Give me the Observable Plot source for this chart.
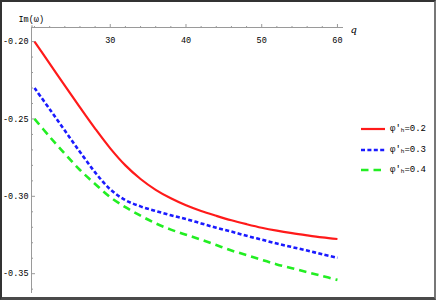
<!DOCTYPE html>
<html><head><meta charset="utf-8">
<script src="https://cdn.jsdelivr.net/npm/d3@7"></script>
<script src="https://cdn.jsdelivr.net/npm/@observablehq/plot@0.6"></script>
<style>
html,body{margin:0;padding:0;background:#fff;}
#wrap{position:relative;width:436px;height:300px;overflow:hidden;}
#frame{position:absolute;left:0;top:0;width:436px;height:300px;box-sizing:border-box;
 border-left:2px solid #333;border-top:2px solid #333;border-right:2px solid #777;border-bottom:3px solid #4a4a4a;pointer-events:none;}
#legend{position:absolute;left:361px;top:119px;font-family:"Liberation Mono",monospace;font-size:9px;color:#000;}
#legend .row{display:flex;align-items:center;height:20.5px;}
#legend svg{margin-right:5px;}
</style></head>
<body><div id="wrap"><div id="frame"></div><div id="legend"></div></div>
<script>
const q = [20,22,24,26,28,30,32,34,36,38,40,42,44,46,48,50,52,54,56,58,60];
const im02 = [-0.200,-0.2142,-0.2285,-0.2425,-0.2562,-0.2690,-0.2800,-0.2888,-0.2958,-0.3013,-0.3058,-0.3095,-0.3126,-0.3155,-0.318,-0.3203,-0.3222,-0.3238,-0.3252,-0.3265,-0.3276];
const im03 = [-0.230,-0.2437,-0.2575,-0.2713,-0.2845,-0.2955,-0.3025,-0.3065,-0.3095,-0.3122,-0.3147,-0.3175,-0.3203,-0.3228,-0.3255,-0.328,-0.3305,-0.3328,-0.335,-0.3375,-0.3397];
const im04 = [-0.250,-0.2615,-0.2725,-0.283,-0.292,-0.3005,-0.307,-0.3125,-0.3175,-0.3215,-0.3248,-0.328,-0.3315,-0.335,-0.338,-0.341,-0.344,-0.3465,-0.349,-0.3515,-0.354];
const seriesNames = ["0.2","0.3","0.4"];
const seriesColors = ["#ff1a1a","#1a1aff","#22ee22"];
const seriesDash = [null,"4,2.4","7.5,5"];
const seriesWidth = [2.2,2.6,2.6];
const xMajor = [30,40,50,60];
const xMinor = [20,22,24,26,28,32,34,36,38,42,44,46,48,52,54,56,58];
const yMajor = [-0.20,-0.25,-0.30,-0.35];
const yMinor = [-0.19,-0.21,-0.22,-0.23,-0.24,-0.26,-0.27,-0.28,-0.29,-0.31,-0.32,-0.33,-0.34,-0.36];
const yLabels = ["-0.20","-0.25","-0.30","-0.35"];
const xDomain = [19.6, 60.8];
const yDomain = [-0.3628, -0.1909];

const allSeries = [im02, im03, im04];
const data = allSeries.flatMap((vals, s) => q.map((x, i) => ({q: x, v: vals[i], s})));

const font = "Liberation Mono, monospace";
const axisColor = "#9a9a9a";

const marks = [
  Plot.ruleY([yDomain[1]], {stroke: axisColor, strokeWidth: 1}),
  Plot.ruleX([xDomain[0]], {stroke: axisColor, strokeWidth: 1}),
  Plot.axisX({anchor: "top", ticks: xMajor, tickSize: 4, tickFormat: () => "", label: null, stroke: axisColor}),
  Plot.axisX({anchor: "top", ticks: xMinor, tickSize: 2, tickFormat: () => "", label: null, stroke: axisColor}),
  Plot.axisY({anchor: "left", ticks: yMajor, tickSize: -4, tickFormat: () => "", label: null, stroke: axisColor}),
  Plot.axisY({anchor: "left", ticks: yMinor, tickSize: -2, tickFormat: () => "", label: null, stroke: axisColor}),
  Plot.text(xMajor, {x: d => d, frameAnchor: "top", dy: 9, text: d => String(d), fontSize: 8.5, fontFamily: font, fill: "#000"}),
  Plot.text(yMajor, {y: d => d, frameAnchor: "left", dx: -3, textAnchor: "end", text: (d, i) => yLabels[i], fontSize: 8.5, fontFamily: font, fill: "#000"}),
  Plot.text(["q"], {frameAnchor: "top-right", dx: 7, dy: -2, text: d => d, textAnchor: "start", fontSize: 10, fontFamily: "DejaVu Serif, serif", fontStyle: "italic", fill: "#000"}),
  Plot.text(["Im(ω)"], {frameAnchor: "top-left", dx: -13, dy: -12, text: d => d, textAnchor: "start", fontSize: 8.5, fontFamily: font, fill: "#000"})
];
allSeries.forEach((vals, s) => {
  marks.push(Plot.line(data.filter(d => d.s === s), {x: "q", y: "v", stroke: seriesColors[s], strokeWidth: seriesWidth[s], strokeDasharray: seriesDash[s], strokeLinecap: "butt", curve: "catmull-rom"}));
});

const chart = Plot.plot({
  width: 436, height: 300,
  marginLeft: 31, marginRight: 93, marginTop: 27, marginBottom: 7,
  x: {domain: xDomain, axis: null},
  y: {domain: yDomain, axis: null},
  style: {background: "transparent", overflow: "visible"},
  marks
});
document.getElementById("wrap").insertBefore(chart, document.getElementById("frame"));

const legend = document.getElementById("legend");
seriesNames.forEach((n, s) => {
  const row = document.createElement("div");
  row.className = "row";
  const dash = seriesDash[s] ? `stroke-dasharray="${seriesDash[s]}"` : "";
  row.innerHTML = `<svg width="24" height="6"><line x1="0" y1="3" x2="24" y2="3" stroke="${seriesColors[s]}" stroke-width="${seriesWidth[s]}" ${dash}/></svg><span>φ'<sub style="font-size:6px;vertical-align:-1px">h</sub>=${n}</span>`;
  legend.appendChild(row);
});
</script>
</body></html>
